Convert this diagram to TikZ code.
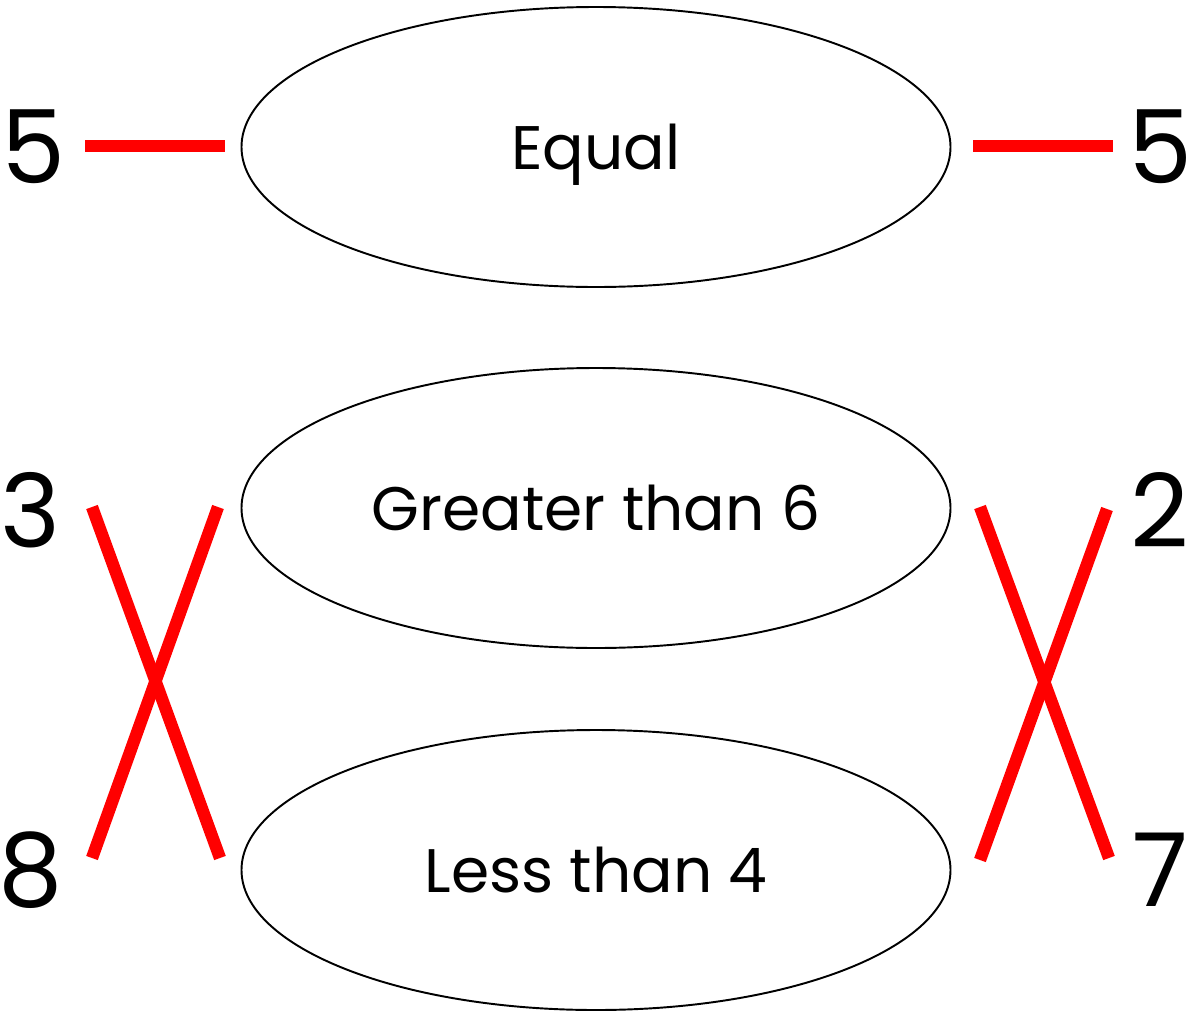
\documentclass[tikz,border=0pt]{standalone}
\usepackage{fontspec}
\setmainfont{Poppins}
\usetikzlibrary{shapes.geometric}
\begin{document}
\begin{tikzpicture}[x=0.02cm,y=-0.02cm,
  oval/.style={draw=black,line width=1.1pt,ellipse,minimum width=709*0.02cm,minimum height=280*0.02cm,inner sep=0pt,text depth=0pt,font=\fontsize{35}{42}\selectfont},
  num/.style={font=\fontsize{58}{66}\selectfont,inner sep=0pt},
  redline/.style={draw=red,line width=7pt}]
\useasboundingbox (0,0) rectangle (1193,1011);
\node[oval] (eq) at (596,147) {Equal};
\node[oval] (gt) at (596,508) {Greater than 6};
\node[oval] (lt) at (596,870) {Less than 4};
\node[num] (l5) at (33,147) {5};
\node[num] (r5) at (1160,147) {5};
\node[num] (l3) at (31,510) {3};
\node[num] (r2) at (1160,510) {2};
\node[num] (l8) at (31,870) {8};
\node[num] (r7) at (1160,870) {7};
\coordinate (a1) at (85,146); \coordinate (a2) at (225,146);
\coordinate (b1) at (973,146); \coordinate (b2) at (1113,146);
\coordinate (c1) at (92,507); \coordinate (c2) at (220,858);
\coordinate (d1) at (218,507); \coordinate (d2) at (92,858);
\coordinate (e1) at (980,507); \coordinate (e2) at (1109,858);
\coordinate (f1) at (1107,509); \coordinate (f2) at (980,860);
\draw[redline] (a1) -- (a2);
\draw[redline] (b1) -- (b2);
\draw[redline] (c1) -- (c2);
\draw[redline] (d1) -- (d2);
\draw[redline] (e1) -- (e2);
\draw[redline] (f1) -- (f2);
\end{tikzpicture}
\end{document}
